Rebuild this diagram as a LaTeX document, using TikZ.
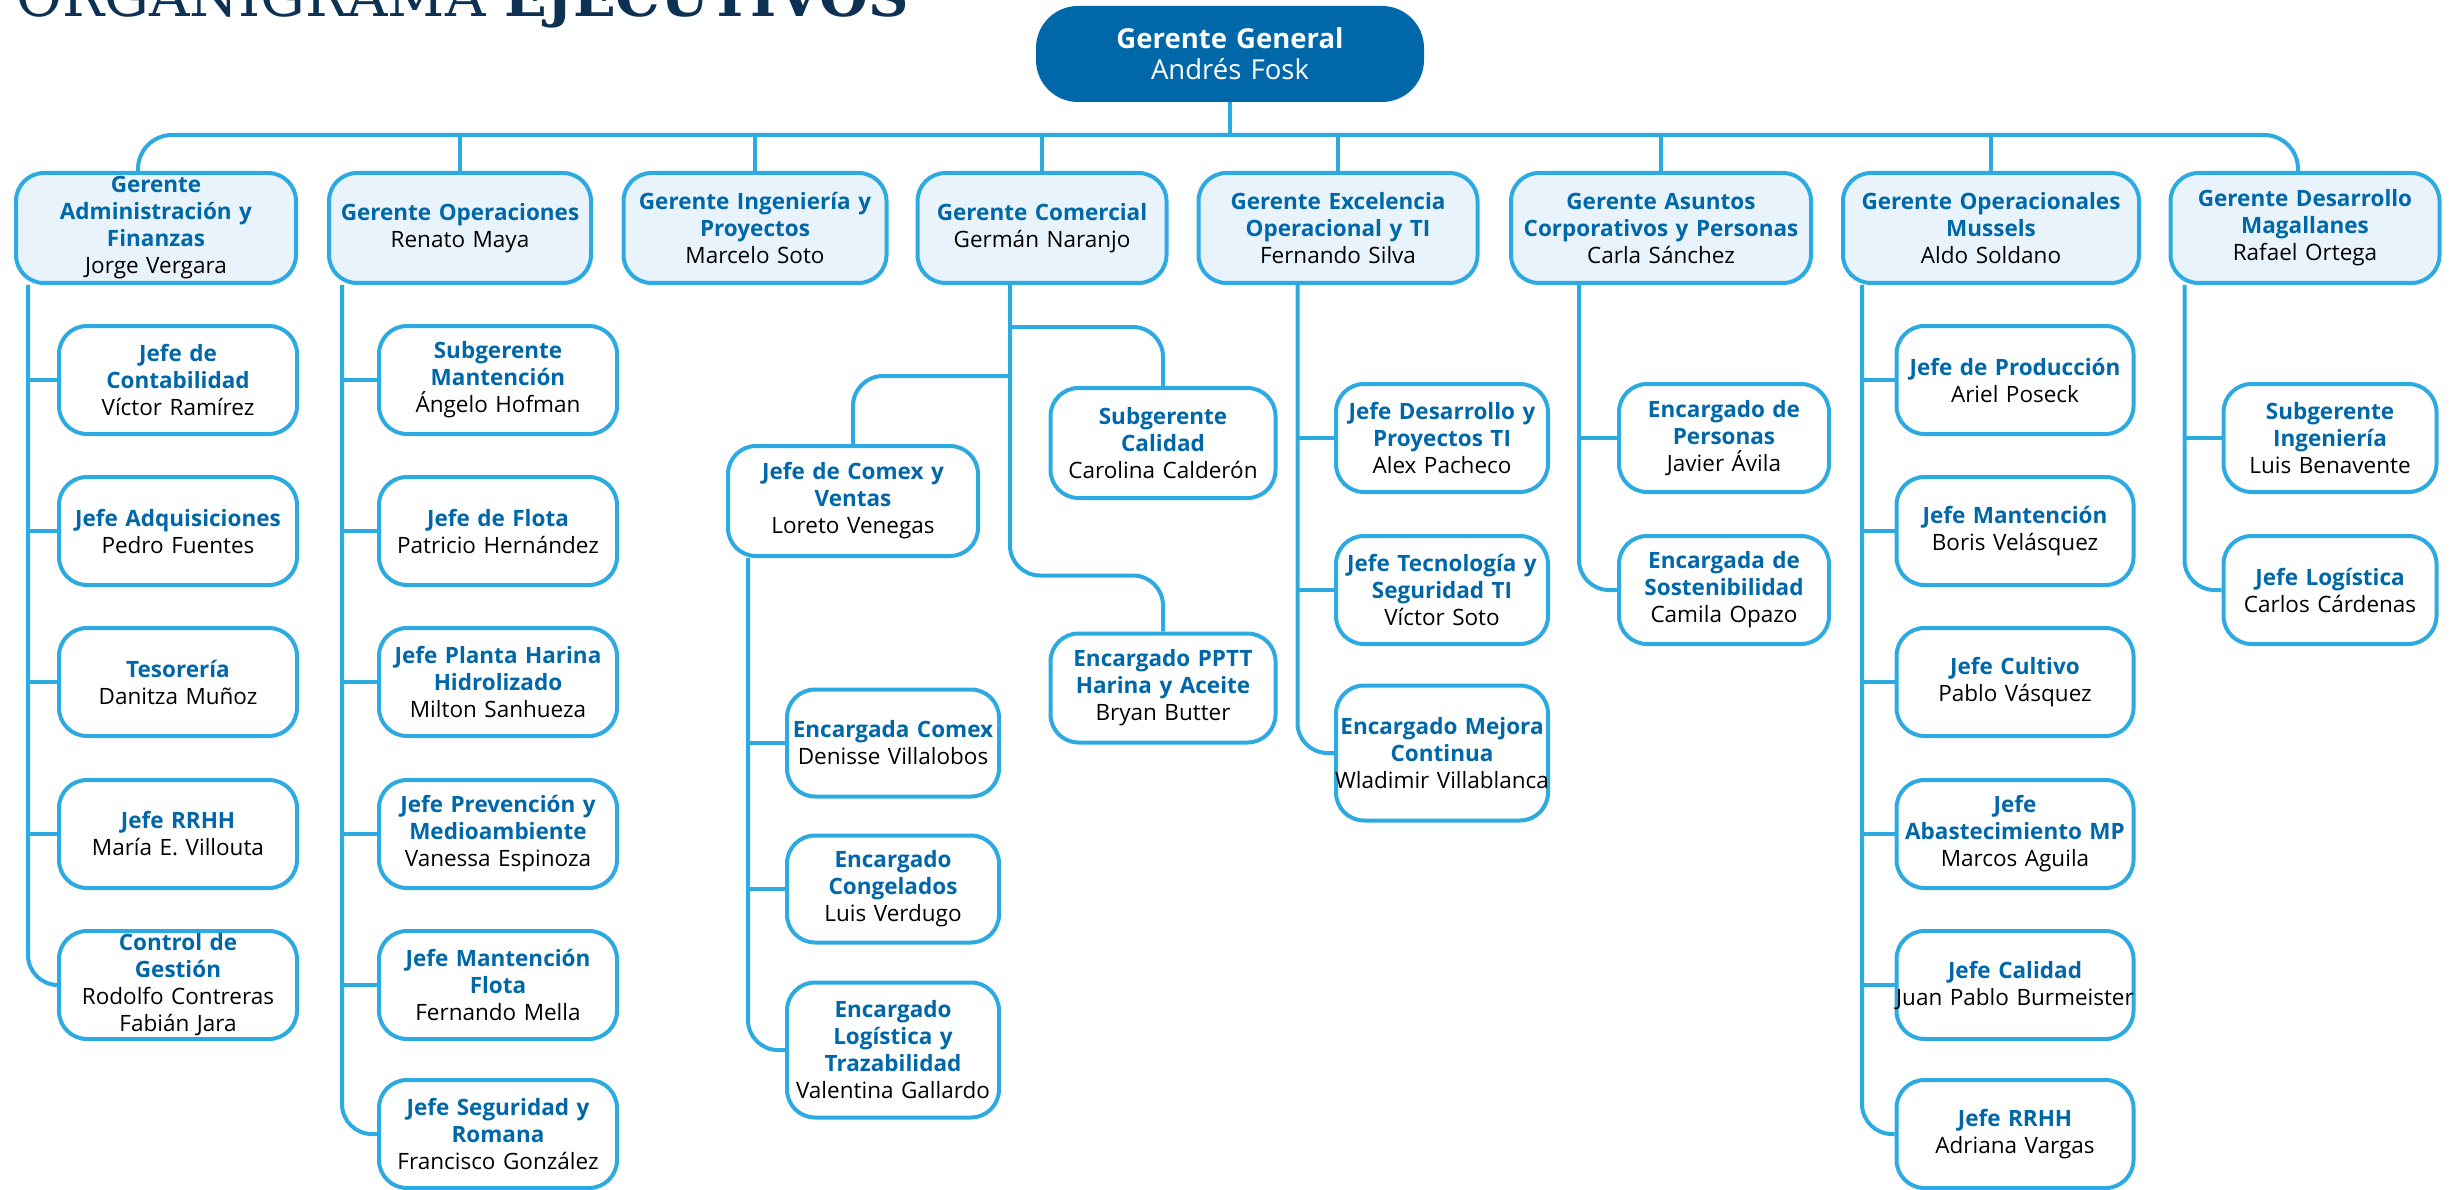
\documentclass[tikz,border=0pt]{standalone}
\usepackage{fontspec}
\setmainfont{Open Sans}
\newfontfamily\titulofont{DejaVu Serif}
\definecolor{lineablue}{RGB}{45,170,225}
\definecolor{cargoblue}{RGB}{0,104,168}
\definecolor{gerfill}{RGB}{232,243,251}
\definecolor{navy}{RGB}{13,49,82}
\newcommand{\puesto}[2]{{\color{cargoblue}\bfseries #1\par}#2}
\newcommand{\ancho}[1]{\makebox[\linewidth][c]{#1}}

\begin{document}
\begin{tikzpicture}[x=1pt, y=-1pt,
  box/.style={rectangle, rounded corners=28pt, draw=lineablue, line width=4pt,
    inner xsep=0pt, inner ysep=2pt, align=center, font=\fontsize{22.5}{27}\selectfont},
  ger/.style={box, fill=gerfill, minimum height=110pt},
  sub/.style={box, fill=white, text width=238pt, minimum height=108pt},
  subn/.style={sub, text width=212pt},
  conn/.style={draw=lineablue, line width=4pt, rounded corners=30pt}]
  \useasboundingbox (0,0) rectangle (2457,1190);
  \fill[white] (0,0) rectangle (2457,1190);
  % title
  \node[anchor=base west, inner sep=0pt, text=navy, font=\titulofont\fontsize{56}{60}\selectfont]
    (titulo) at (16,17) {ORGANIGRAMA \textbf{EJECUTIVOS}};
  % gerente general
  \node[box, fill=cargoblue, draw=cargoblue, rounded corners=40pt, text width=384pt,
    minimum height=92pt, text=white, font=\fontsize{27.5}{31}\selectfont]
    (gg) at (1230,54) {\textbf{Gerente General}\par Andrés Fosk};
  % gerencias
  \node[ger, text width=280pt] (adm) at (156,228) {\puesto{Gerente\\Administración y\\Finanzas}{Jorge Vergara}};
  \node[ger, text width=262pt] (ope) at (460,228) {\puesto{Gerente Operaciones}{Renato Maya}};
  \node[ger, text width=263pt] (ing) at (755,228) {\puesto{Gerente Ingeniería y\\Proyectos}{Marcelo Soto}};
  \node[ger, text width=249pt] (com) at (1042,228) {\puesto{Gerente Comercial}{Germán Naranjo}};
  \node[ger, text width=279pt] (exc) at (1338,228) {\puesto{Gerente Excelencia\\Operacional y TI}{Fernando Silva}};
  \node[ger, text width=300pt] (asu) at (1661,228) {\puesto{Gerente Asuntos\\Corporativos y Personas}{Carla Sánchez}};
  \node[ger, text width=296pt] (mus) at (1991,228) {\puesto{Gerente Operacionales\\Mussels}{Aldo Soldano}};
  \node[ger, text width=269pt] (des) at (2305,228) {\puesto{Gerente Desarrollo\\Magallanes}{Rafael Ortega}};
  % bus
  \coordinate (bus) at (1230,135);
  \draw[conn, rounded corners=34pt] ([xshift=-18pt]adm.north) |- (bus) -| ([xshift=-7pt]des.north);
  \draw[conn] (gg.south) -- (bus);
  \foreach \n in {ope,ing,com,exc,asu,mus}
    \draw[conn] (\n.north) -- (\n.north |- bus);

  % administracion y finanzas
  \node[sub] (ad1) at (178,380) {\puesto{Jefe de\\Contabilidad}{Víctor Ramírez}};
  \node[sub] (ad2) at (178,531) {\puesto{Jefe Adquisiciones}{Pedro Fuentes}};
  \node[sub] (ad3) at (178,682) {\puesto{Tesorería}{Danitza Muñoz}};
  \node[sub] (ad4) at (178,834) {\puesto{Jefe RRHH}{María E. Villouta}};
  \node[sub] (ad5) at (178,985) {\puesto{Control de\\Gestión}{Rodolfo Contreras\\Fabián Jara}};
  \coordinate (adv) at ([xshift=14pt]adm.south west);
  \draw[conn] (adv) |- (ad5.west);
  \foreach \n in {ad1,ad2,ad3,ad4}
    \draw[conn] (\n.west) -- (\n.west -| adv);

  % operaciones
  \node[sub] (op1) at (498,380) {\puesto{Subgerente\\Mantención}{Ángelo Hofman}};
  \node[sub] (op2) at (498,531) {\puesto{Jefe de Flota}{Patricio Hernández}};
  \node[sub] (op3) at (498,682) {\puesto{Jefe Planta Harina\\Hidrolizado}{Milton Sanhueza}};
  \node[sub] (op4) at (498,834) {\puesto{Jefe Prevención y\\Medioambiente}{Vanessa Espinoza}};
  \node[sub] (op5) at (498,985) {\puesto{Jefe Mantención\\Flota}{Fernando Mella}};
  \node[sub] (op6) at (498,1134) {\puesto{Jefe Seguridad y\\Romana}{Francisco González}};
  \coordinate (opv) at ([xshift=15pt]ope.south west);
  \draw[conn] (opv) |- (op6.west);
  \foreach \n in {op1,op2,op3,op4,op5}
    \draw[conn] (\n.west) -- (\n.west -| opv);

  % comercial
  \node[sub, text width=250pt, minimum height=110pt] (cvt) at (853,501) {\puesto{Jefe de Comex y\\Ventas}{Loreto Venegas}};
  \node[sub, text width=225pt, minimum height=110pt] (cal) at (1163,443) {\puesto{Subgerente\\Calidad}{Carolina Calderón}};
  \node[sub, text width=225pt, minimum height=109pt] (ppt) at (1163,688) {\puesto{Encargado PPTT\\Harina y Aceite}{Bryan Butter}};
  \coordinate (comv) at ([xshift=-32pt]com.south);
  \draw[conn] (comv) |- ([yshift=56pt]ppt.north) -- (ppt.north);
  \draw[conn] ([yshift=59pt]cal.north -| comv) -| (cal.north);
  \draw[conn] ([yshift=68pt]cvt.north -| comv) -| (cvt.north);
  % comex y ventas
  \node[subn, minimum height=107pt] (cv1) at (893,743) {\puesto{\ancho{Encargada Comex}}{Denisse Villalobos}};
  \node[subn, minimum height=107pt] (cv2) at (893,889) {\puesto{Encargado\\Congelados}{Luis Verdugo}};
  \node[subn, minimum height=135pt] (cv3) at (893,1050) {\puesto{Encargado\\Logística y\\Trazabilidad}{\ancho{Valentina Gallardo}}};
  \coordinate (cvv) at ([xshift=22pt]cvt.south west);
  \draw[conn] (cvv) |- (cv3.west);
  \foreach \n in {cv1,cv2}
    \draw[conn] (\n.west) -- (\n.west -| cvv);

  % excelencia operacional
  \node[subn] (ex1) at (1442,438) {\puesto{Jefe Desarrollo y\\Proyectos TI}{Alex Pacheco}};
  \node[subn] (ex2) at (1442,590) {\puesto{Jefe Tecnología y\\Seguridad TI}{Víctor Soto}};
  \node[subn, minimum height=135pt] (ex3) at (1442,753) {\puesto{Encargado Mejora\\Continua}{\ancho{Wladimir Villablanca}}};
  \coordinate (exv) at ([xshift=101pt]exc.south west);
  \draw[conn] (exv) |- (ex3.west);
  \foreach \n in {ex1,ex2}
    \draw[conn] (\n.west) -- (\n.west -| exv);

  % asuntos corporativos
  \node[subn, text width=210pt] (as1) at (1724,438) {\puesto{Encargado de\\Personas}{Javier Ávila}};
  \node[subn, text width=210pt] (as2) at (1724,590) {\puesto{Encargada de\\Sostenibilidad}{Camila Opazo}};
  \coordinate (asv) at ([xshift=70pt]asu.south west);
  \draw[conn] (asv) |- (as2.west);
  \draw[conn] (as1.west) -- (as1.west -| asv);

  % operacionales mussels
  \node[sub, text width=237pt] (mu1) at (2015,380) {\puesto{Jefe de Producción}{Ariel Poseck}};
  \node[sub, text width=237pt] (mu2) at (2015,531) {\puesto{Jefe Mantención}{Boris Velásquez}};
  \node[sub, text width=237pt] (mu3) at (2015,682) {\puesto{Jefe Cultivo}{Pablo Vásquez}};
  \node[sub, text width=237pt] (mu4) at (2015,834) {\puesto{Jefe\\Abastecimiento MP}{Marcos Aguila}};
  \node[sub, text width=237pt] (mu5) at (2015,985) {\puesto{Jefe Calidad}{\ancho{Juan Pablo Burmeister}}};
  \node[sub, text width=237pt] (mu6) at (2015,1134) {\puesto{Jefe RRHH}{Adriana Vargas}};
  \coordinate (muv) at ([xshift=21pt]mus.south west);
  \draw[conn] (muv) |- (mu6.west);
  \foreach \n in {mu1,mu2,mu3,mu4,mu5}
    \draw[conn] (\n.west) -- (\n.west -| muv);

  % desarrollo magallanes
  \node[subn, text width=213pt] (de1) at (2330,438) {\puesto{Subgerente\\Ingeniería}{Luis Benavente}};
  \node[subn, text width=213pt] (de2) at (2330,590) {\puesto{Jefe Logística}{Carlos Cárdenas}};
  \coordinate (dev) at ([xshift=16pt]des.south west);
  \draw[conn] (dev) |- (de2.west);
  \draw[conn] (de1.west) -- (de1.west -| dev);
\end{tikzpicture}
\end{document}
